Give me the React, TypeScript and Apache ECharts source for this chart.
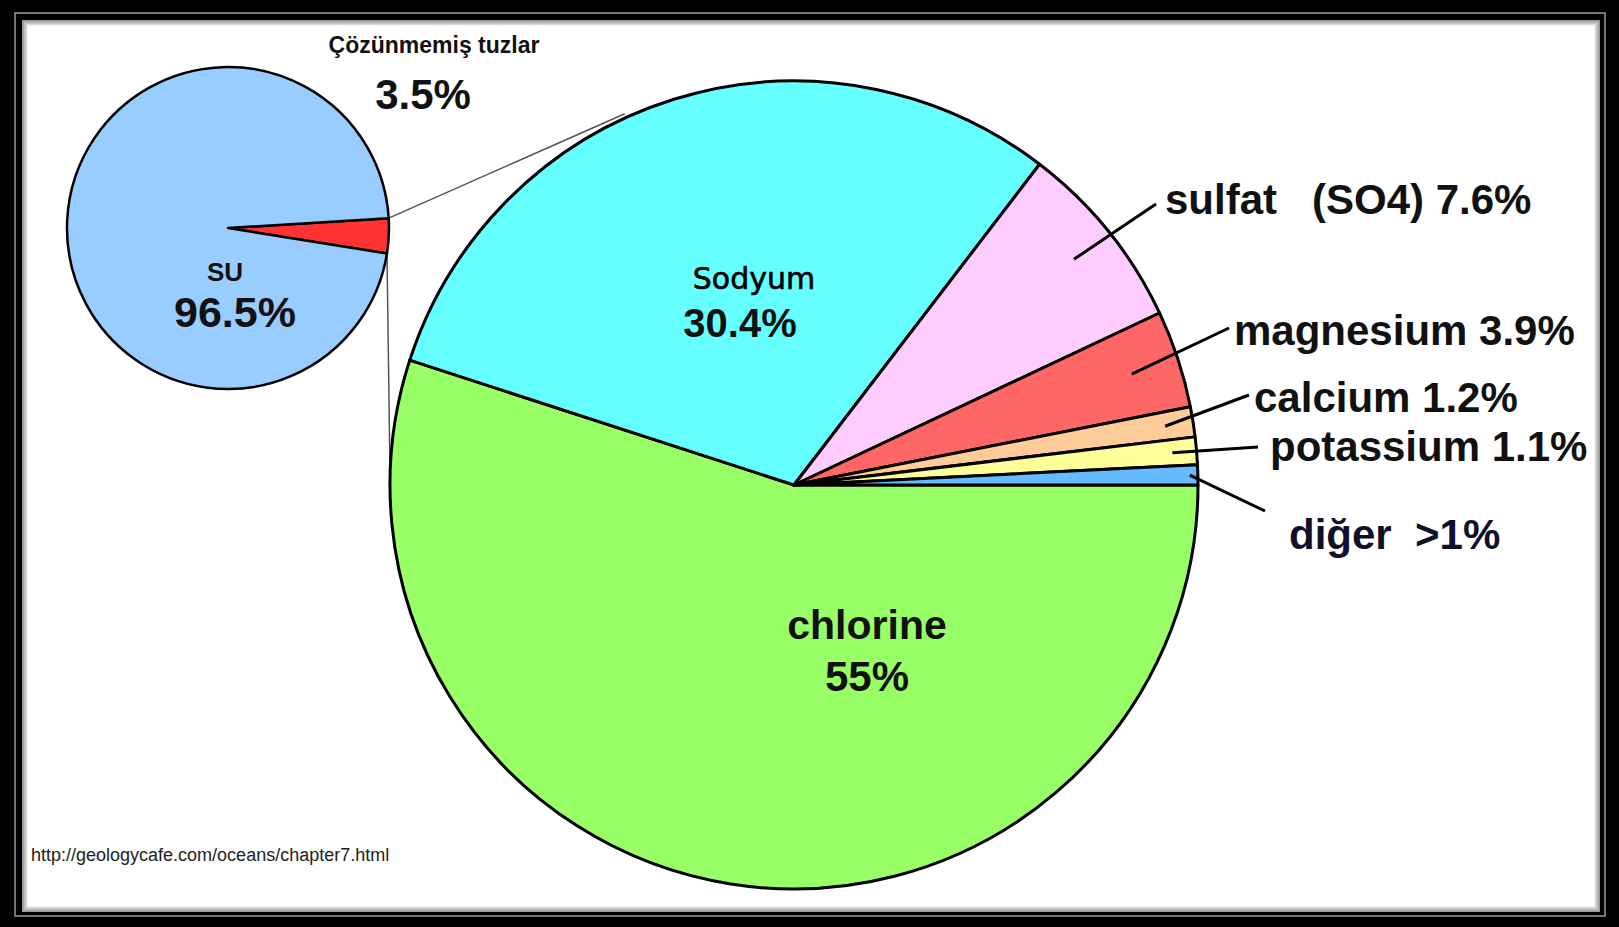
import React, { useEffect, useRef } from "react";
import * as echarts from "echarts";

// ---------- DATA ----------
const mainCategories = ["chlorine", "Sodyum", "sulfat   (SO4)", "magnesium", "calcium", "potassium", "diğer"];
const mainValues = [55, 30.4, 7.6, 3.9, 1.2, 1.1, 0.8];
const mainValueLabels = ["55%", "30.4%", "7.6%", "3.9%", "1.2%", "1.1%", ">1%"];
const mainColors = ["#99FF66", "#66FFFF", "#FFCCFF", "#FF6666", "#FFCC99", "#FFFF99", "#66BBFF"];

const smallCategories = ["Çözünmemiş tuzlar", "SU"];
const smallValues = [3.5, 96.5];
const smallValueLabels = ["3.5%", "96.5%"];
const smallColors = ["#FF3333", "#99CCFF"];

const sourceText = "http://geologycafe.com/oceans/chapter7.html";

// ---------- LAYOUT ----------
const W = 1619;
const H = 927;
const BIG = { cx: 794, cy: 485, r: 404, start: 0 };
const SMALL = { cx: 228, cy: 228, r: 161, start: 3.5 };

// external label layout: index into main arrays, leader start radius fraction, leader end, text pos
const externals = [
  { i: 2, f: 0.89, end: [1156, 204], tx: 1165, by: 212, gap: " " },
  { i: 3, f: 0.88, end: [1229, 328], tx: 1234, by: 343, gap: " " },
  { i: 4, f: 0.93, end: [1249, 395], tx: 1254, by: 410, gap: " " },
  { i: 5, f: 0.94, end: [1258, 447], tx: 1270, by: 459, gap: " " },
  { i: 6, f: 0.98, end: [1265, 511], tx: 1289, by: 547, gap: "  " },
];

function sliceAngles(values: number[], start: number) {
  const total = values.reduce((a, b) => a + b, 0);
  let cur = start;
  return values.map((v) => {
    const a0 = cur;
    const a1 = cur - (v / total) * 360;
    cur = a1;
    return { a0, a1, mid: (a0 + a1) / 2 };
  });
}
function polar(cx: number, cy: number, r: number, deg: number) {
  const t = (deg * Math.PI) / 180;
  return [cx + r * Math.cos(t), cy - r * Math.sin(t)];
}

const FONT = '"Liberation Sans", Arial, sans-serif';

export default function App() {
  const ref = useRef<HTMLDivElement>(null);
  useEffect(() => {
    document.body.style.margin = "0";
    if (!ref.current) return;
    const chart = echarts.init(ref.current, null, { renderer: "svg" });

    const bigAngles = sliceAngles(mainValues, BIG.start);
    const smallAngles = sliceAngles(smallValues, SMALL.start);

    const graphics: any[] = [];
    // frame
    graphics.push({ type: "rect", z: -10, silent: true, shape: { x: 0, y: 0, width: W, height: H }, style: { fill: "#000" } });
    graphics.push({ type: "rect", z: -9, silent: true, shape: { x: 15, y: 13, width: W - 29, height: H - 24 }, style: { fill: "none", stroke: "#9a9a9a", lineWidth: 1.5 } });
    graphics.push({ type: "rect", z: -8, silent: true, shape: { x: 22, y: 20, width: 1578, height: 892 }, style: { fill: "#fff" } });
    for (let k = 0; k < 4; k++) {
      graphics.push({
        type: "rect", z: -7, silent: true,
        shape: { x: 22 + k * 1.5, y: 20 + k * 1.5, width: 1578 - k * 3, height: 892 - k * 3 },
        style: { fill: "none", stroke: `rgba(0,0,0,${0.45 - k * 0.1})`, lineWidth: 1.5 },
      });
    }

    // zoom connectors from small pie's tuzlar wedge to big pie
    const tz = smallAngles[0];
    const pTop = polar(SMALL.cx, SMALL.cy, SMALL.r, tz.a0);
    const pBot = polar(SMALL.cx, SMALL.cy, SMALL.r, tz.a1);
    const bigTop = polar(BIG.cx, BIG.cy, BIG.r + 4, 114.5);
    graphics.push({ type: "line", z: 1, silent: true, shape: { x1: pTop[0], y1: pTop[1], x2: bigTop[0], y2: bigTop[1] }, style: { stroke: "#555", lineWidth: 1.5 } });
    graphics.push({ type: "line", z: 1, silent: true, shape: { x1: pBot[0], y1: pBot[1], x2: pBot[0] + 3, y2: BIG.cy - 15 }, style: { stroke: "#555", lineWidth: 1.5 } });

    // small pie labels
    graphics.push({ type: "text", z: 10, silent: true, style: { text: smallCategories[0], x: 434, y: 45, font: `bold 23px ${FONT}`, fill: "#111", textAlign: "center", textVerticalAlign: "middle" } });
    graphics.push({ type: "text", z: 10, silent: true, style: { text: smallValueLabels[0], x: 423, y: 94, font: `bold 42px ${FONT}`, fill: "#111", textAlign: "center", textVerticalAlign: "middle" } });
    graphics.push({ type: "text", z: 10, silent: true, style: { text: smallCategories[1], x: 225, y: 272, font: `bold 26px ${FONT}`, fill: "#111", textAlign: "center", textVerticalAlign: "middle" } });
    graphics.push({ type: "text", z: 10, silent: true, style: { text: smallValueLabels[1], x: 235, y: 312, font: `bold 43px ${FONT}`, fill: "#111", textAlign: "center", textVerticalAlign: "middle" } });

    // inside labels big pie
    graphics.push({ type: "text", z: 10, silent: true, style: { text: mainCategories[1], x: 754, y: 278, font: `30px "DejaVu Sans", Verdana, sans-serif`, fill: "#000", stroke: "#000", lineWidth: 0.6, textAlign: "center", textVerticalAlign: "middle" } });
    graphics.push({ type: "text", z: 10, silent: true, style: { text: mainValueLabels[1], x: 740, y: 323, font: `bold 40px ${FONT}`, fill: "#111", textAlign: "center", textVerticalAlign: "middle" } });
    graphics.push({ type: "text", z: 10, silent: true, style: { text: mainCategories[0], x: 867, y: 625, font: `bold 41px ${FONT}`, fill: "#111", textAlign: "center", textVerticalAlign: "middle" } });
    graphics.push({ type: "text", z: 10, silent: true, style: { text: mainValueLabels[0], x: 867, y: 676, font: `bold 42px ${FONT}`, fill: "#111", textAlign: "center", textVerticalAlign: "middle" } });

    // external labels with leader lines
    externals.forEach((e) => {
      const st = polar(BIG.cx, BIG.cy, BIG.r * e.f, bigAngles[e.i].mid);
      graphics.push({ type: "line", z: 10, silent: true, shape: { x1: st[0], y1: st[1], x2: e.end[0], y2: e.end[1] }, style: { stroke: "#000", lineWidth: 3 } });
      graphics.push({
        type: "text", z: 10, silent: true,
        style: {
          text: mainCategories[e.i] + e.gap + mainValueLabels[e.i],
          x: e.tx, y: e.by - 13, font: `bold 42px ${FONT}`,
          fill: e.i === 6 ? "#10102a" : "#111", textAlign: "left", textVerticalAlign: "middle",
        },
      });
    });

    // source
    graphics.push({ type: "text", z: 10, silent: true, style: { text: sourceText, x: 31, y: 855, font: `18px ${FONT}`, fill: "#222", textAlign: "left", textVerticalAlign: "middle" } });

    chart.setOption({
      animation: false,
      graphic: { elements: graphics },
      series: [
        {
          type: "pie",
          z: 2,
          silent: true,
          center: [BIG.cx, BIG.cy],
          radius: [0, BIG.r],
          startAngle: BIG.start,
          clockwise: true,
          avoidLabelOverlap: false,
          label: { show: false },
          labelLine: { show: false },
          itemStyle: { borderColor: "#000", borderWidth: 3 },
          emphasis: { disabled: true },
          data: mainCategories.map((n, i) => ({ name: n, value: mainValues[i], itemStyle: { color: mainColors[i] } })),
        },
        {
          type: "pie",
          z: 2,
          silent: true,
          center: [SMALL.cx, SMALL.cy],
          radius: [0, SMALL.r],
          startAngle: SMALL.start,
          clockwise: true,
          avoidLabelOverlap: false,
          label: { show: false },
          labelLine: { show: false },
          itemStyle: { borderColor: "#000", borderWidth: 2.5 },
          emphasis: { disabled: true },
          data: smallCategories.map((n, i) => ({ name: n, value: smallValues[i], itemStyle: { color: smallColors[i] } })),
        },
      ],
    });
    return () => chart.dispose();
  }, []);
  return <div ref={ref} style={{ width: W, height: H }} />;
}
